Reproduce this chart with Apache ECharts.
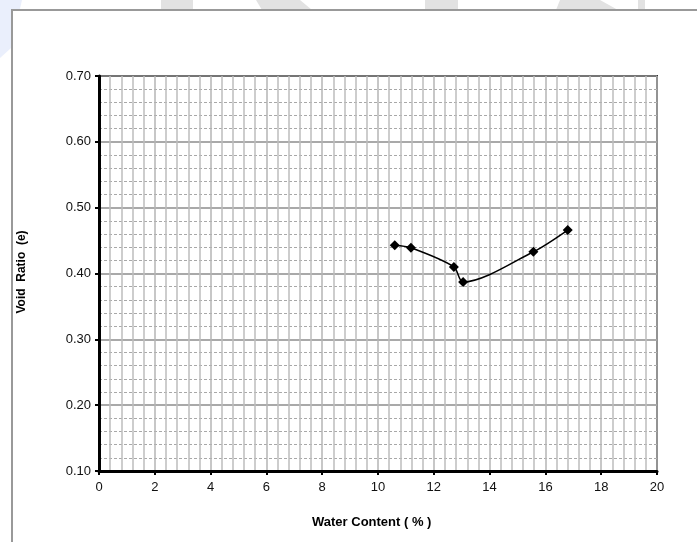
<!DOCTYPE html>
<html>
<head>
<meta charset="utf-8">
<script src="https://cdn.jsdelivr.net/npm/echarts@6/dist/echarts.min.js"></script>
<style>
  html, body { margin: 0; padding: 0; background: #ffffff; }
  #chart { width: 697px; height: 542px; }
</style>
</head>
<body>
<div id="chart"></div>
<script>
// Compaction test: water content vs. void ratio
const waterContent = [10.6, 11.18, 12.72, 13.05, 15.57, 16.8];
const voidRatio = [0.443, 0.439, 0.410, 0.387, 0.433, 0.466];
const xTitle = 'Water Content ( % )';
const yTitle = 'Void  Ratio  (e)';

const points = waterContent.map((w, i) => [w, voidRatio[i]]);

const chart = echarts.init(document.getElementById('chart'), null, { renderer: 'canvas' });

// faint page decorations behind the chart frame
const faint = '#e2e2e2';
const decor = [
  { type: 'polygon', shape: { points: [[0, 0], [22, 0], [11, 48], [0, 58]] }, style: { fill: '#eaeffc' }, z: -2 },
  { type: 'rect', shape: { x: 161, y: 0, width: 32, height: 10 }, style: { fill: faint }, z: -2 },
  { type: 'polygon', shape: { points: [[256, 0], [300, 0], [312, 10], [262, 10]] }, style: { fill: faint }, z: -2 },
  { type: 'rect', shape: { x: 425, y: 0, width: 33, height: 10 }, style: { fill: faint }, z: -2 },
  { type: 'polygon', shape: { points: [[560, 0], [600, 0], [618, 10], [556, 10]] }, style: { fill: faint }, z: -2 },
  { type: 'rect', shape: { x: 638, y: 0, width: 7, height: 10 }, style: { fill: faint }, z: -2 }
];

chart.setOption({
  backgroundColor: '#ffffff',
  animation: false,
  textStyle: { fontFamily: 'Liberation Sans, Arial, sans-serif' },
  graphic: decor.concat([
    {
      type: 'rect',
      shape: { x: 12, y: 10, width: 700, height: 560 },
      style: { fill: '#fff', stroke: '#999999', lineWidth: 2 },
      z: -1
    },
    {
      type: 'text',
      left: 312, top: 516,
      style: { text: xTitle, font: 'bold 13px "Liberation Sans", Arial, sans-serif', fill: '#000' }
    },
    {
      type: 'text',
      x: 16, y: 272,
      rotation: Math.PI / 2,
      style: { text: yTitle, font: 'bold 12px "Liberation Sans", Arial, sans-serif', fill: '#000', align: 'center', verticalAlign: 'top' }
    }
  ]),
  grid: {
    left: 99, right: 40, top: 76, bottom: 71,
    show: true, borderColor: '#333', borderWidth: 2, backgroundColor: '#fff'
  },
  xAxis: {
    type: 'value', min: 0, max: 20, interval: 2,
    axisLine: { show: true, onZero: false, lineStyle: { color: '#000', width: 3 } },
    axisTick: { show: true, length: 4, lineStyle: { color: '#000', width: 2 } },
    axisLabel: { color: '#111', fontSize: 13, margin: 10 },
    splitLine: { show: true, lineStyle: { color: '#b4b4b4', width: 1.5 } },
    minorTick: { show: false, splitNumber: 5 },
    minorSplitLine: { show: true, lineStyle: { color: '#bdbdbd', width: 1.5 } }
  },
  yAxis: {
    type: 'value', min: 0.1, max: 0.7, interval: 0.1,
    axisLine: { show: true, onZero: false, lineStyle: { color: '#000', width: 3 } },
    axisTick: { show: true, length: 4, lineStyle: { color: '#000', width: 2 } },
    axisLabel: { color: '#111', fontSize: 13, margin: 8, formatter: v => v.toFixed(2) },
    splitLine: { show: true, lineStyle: { color: '#8c8c8c', width: 1.5 } },
    minorTick: { show: false, splitNumber: 5 },
    minorSplitLine: { show: true, lineStyle: { color: '#a8a8a8', width: 1, type: [3, 2] } }
  },
  series: [{
    type: 'line',
    data: points,
    smooth: 0.3,
    symbol: 'diamond',
    symbolSize: 10,
    itemStyle: { color: '#000' },
    lineStyle: { color: '#000', width: 1.5 },
    z: 5
  }]
});
</script>
</body>
</html>
